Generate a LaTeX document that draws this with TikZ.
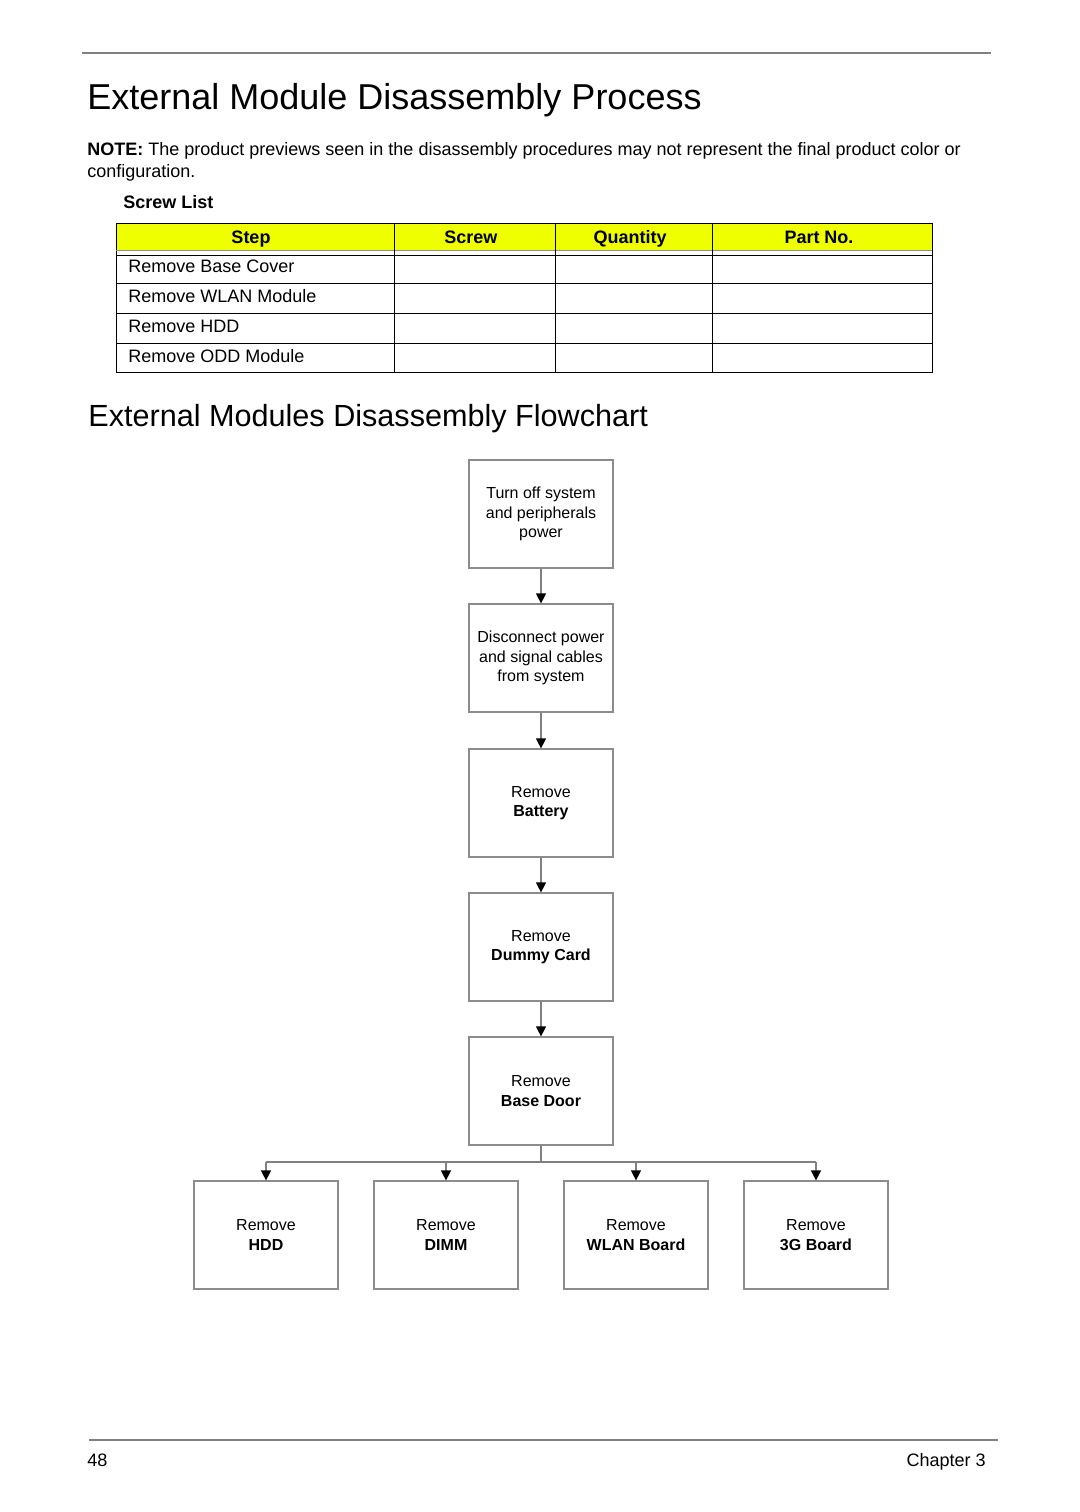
\documentclass[tikz,border=0pt]{standalone}
\usepackage{fontspec}
\setmainfont{Liberation Sans}
\usetikzlibrary{positioning,arrows.meta}
\definecolor{hdryellow}{RGB}{240,255,0}
\definecolor{rulegray}{RGB}{128,128,128}
\definecolor{boxgray}{RGB}{140,140,140}

\begin{document}
\begin{tikzpicture}[x=0.5pt,y=-0.5pt,
    stepbox/.style={draw=boxgray, line width=0.6pt, minimum width=72pt, minimum height=54pt, inner sep=0pt, align=center, font=\fontsize{8}{9.75}\selectfont},
    flow/.style={draw=rulegray, line width=0.6pt, -{Triangle[black,length=5pt,width=5pt]}},
    body/.style={font=\fontsize{9}{11}\selectfont, inner sep=0pt, anchor=base west},
    cell/.style={font=\fontsize{9}{11}\selectfont, inner sep=0pt, anchor=base}]
  \useasboundingbox (0,0) rectangle (1080,1512);

  % page rules
  \draw[rulegray, line width=1pt] (82,53) -- (991,53);
  \draw[rulegray, line width=1pt] (89,1440) -- (998,1440);

  % headings and note
  \node[body, font=\fontsize{18}{20}\selectfont] (title) at (87,109) {External Module Disassembly Process};
  \node[body] (note) at (87,155) {\textbf{NOTE:} The product previews seen in the disassembly procedures may not represent the final product color or};
  \node[body] (note2) at (87,177) {configuration.};
  \node[body] (screwlist) at (123,208) {\textbf{Screw List}};

  % screw table
  \fill[hdryellow] (116,223) rectangle (932,250);
  \draw[line width=0.5pt] (116,223) rectangle (932,372);
  \draw[boxgray, line width=0.5pt] (116,250) -- (932,250);
  \draw[line width=0.5pt] (116,255) -- (932,255);
  \foreach \y in {283,313,343}
    \draw[line width=0.5pt] (116,\y) -- (932,\y);
  \foreach \x in {394,555,712}
    \draw[line width=0.5pt] (\x,223) -- (\x,372);
  \node[cell] (hstep) at (251,243) {\textbf{Step}};
  \node[cell] (hscrew) at (471,243) {\textbf{Screw}};
  \node[cell] (hqty) at (630,243) {\textbf{Quantity}};
  \node[cell] (hpart) at (819,243) {\textbf{Part No.}};
  \foreach \txt [count=\i] in {Remove Base Cover,Remove WLAN Module,Remove HDD,Remove ODD Module}
    \node[body] (row\i) at (128,{242+30*\i}) {\txt};

  \node[body, font=\fontsize{15.3}{17}\selectfont] (flowtitle) at (88,426) {External Modules Disassembly Flowchart};

  % flowchart
  \node[stepbox] (power) at (541,514) {Turn off system\\and peripherals\\power};
  \node[stepbox] (cables) at (541,658) {Disconnect power\\and signal cables\\from system};
  \node[stepbox] (battery) at (541,803) {Remove\\\textbf{Battery}};
  \node[stepbox] (dummy) at (541,947) {Remove\\\textbf{Dummy Card}};
  \node[stepbox] (door) at (541,1091) {Remove\\\textbf{Base Door}};

  \node[stepbox] (hdd) at (266,1235) {Remove\\\textbf{HDD}};
  \node[stepbox] (dimm) at (446,1235) {Remove\\\textbf{DIMM}};
  \node[stepbox] (wlan) at (636,1235) {Remove\\\textbf{WLAN Board}};
  \node[stepbox] (board3g) at (816,1235) {Remove\\\textbf{3G Board}};

  \draw[flow] (power) -- (cables);
  \draw[flow] (cables) -- (battery);
  \draw[flow] (battery) -- (dummy);
  \draw[flow] (dummy) -- (door);

  \coordinate (bus) at (541,1162);
  \draw[rulegray, line width=0.6pt] (door.south) -- (bus);
  \draw[rulegray, line width=0.6pt] (bus -| hdd) -- (bus -| board3g);
  \foreach \n in {hdd,dimm,wlan,board3g}
    \draw[flow] (bus -| \n) -- (\n);

  % footer
  \node[body] (pagenum) at (87,1466) {48};
  \node[body, anchor=base east] (chapter) at (986,1466) {Chapter 3};
\end{tikzpicture}
\end{document}
